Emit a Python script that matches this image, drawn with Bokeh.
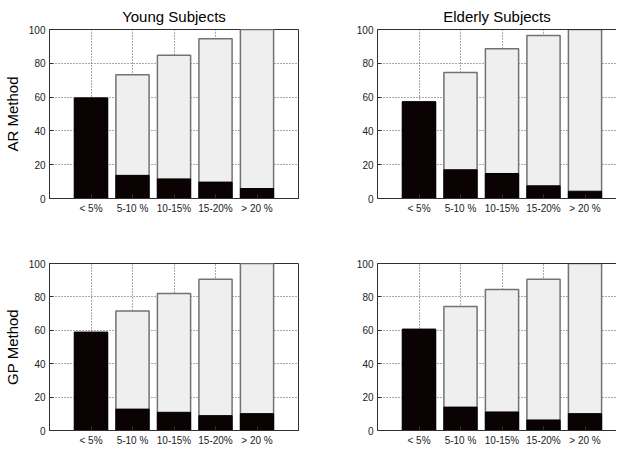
from bokeh.plotting import figure
from bokeh.layouts import column, row
from bokeh.models import Range1d, FixedTicker, LinearAxis
from bokeh.embed import file_html
from bokeh.resources import INLINE

categories = ["< 5%", "5-10 %", "10-15%", "15-20%", "> 20 %"]
y_ticks = [0, 20, 40, 60, 80, 100]

young_ar_black = [59.5, 13.7, 11.6, 9.7, 5.9]
young_ar_total = [59.5, 73.2, 84.8, 94.5, 100]
elderly_ar_black = [57.2, 17.0, 14.8, 7.5, 4.3]
elderly_ar_total = [57.2, 74.6, 88.6, 96.4, 100]
young_gp_black = [58.8, 12.8, 10.9, 8.9, 10.1]
young_gp_total = [58.8, 71.5, 82.0, 90.5, 100]
elderly_gp_black = [60.6, 14.0, 11.1, 6.3, 10.1]
elderly_gp_total = [60.6, 74.3, 84.4, 90.5, 100]

FONT = "Liberation Sans"
FRAME_COL = "#303030"
GRID_COL = "#555555"
LIGHT = "#efefef"
LIGHT_EDGE = "#727272"
DARK = "#0b0203"

positions = list(range(1, len(categories) + 1))


def make(total, black, title=None, ylabel=None, left_col=True, top_row=True):
    fw_full = 249
    fw = fw_full if left_col else 239
    fh = 169 if top_row else 167
    x_end = 6 * fw / fw_full
    p = figure(
        frame_width=fw, frame_height=fh,
        x_range=Range1d(0, x_end), y_range=Range1d(0, 100),
        output_backend="svg", toolbar_location=None,
        min_border_left=41 if left_col else 59,
        min_border_right=20 if left_col else 0,
        min_border_top=29 if top_row else 35,
        min_border_bottom=30 if top_row else 16,
        background_fill_color="white", border_fill_color="white",
    )
    xa = p.below[0]
    ya = p.left[0]
    if title:
        p.title.text = title
        p.title.align = "center"
        p.title.text_font = FONT
        p.title.text_font_size = "15px"
        p.title.text_font_style = "normal"
        p.title.text_color = "black"
        p.title.standoff = 9
    if left_col:
        p.outline_line_color = FRAME_COL
        p.outline_line_width = 1
        p.outline_line_alpha = 1
    else:
        p.outline_line_color = None
        top_ax = LinearAxis(ticker=FixedTicker(ticks=[]),
                            major_tick_in=0, major_tick_out=0,
                            major_label_standoff=0,
                            minor_tick_line_color=None,
                            axis_line_color=FRAME_COL)
        p.add_layout(top_ax, "above")

    p.vbar(x=positions, top=total, width=0.8, bottom=0,
           fill_color=LIGHT, line_color=LIGHT_EDGE, line_width=1.5)
    p.vbar(x=positions, top=black, width=0.8, bottom=0,
           fill_color=DARK, line_color="black", line_width=1)

    xa.ticker = FixedTicker(ticks=positions)
    xa.major_label_overrides = {k: v for k, v in zip(positions, categories)}
    ya.ticker = FixedTicker(ticks=y_ticks)
    for ax in (xa, ya):
        ax.major_tick_in = 4
        ax.major_tick_out = 0
        ax.minor_tick_line_color = None
        ax.major_label_text_font = FONT
        ax.major_label_text_font_size = "10px"
        ax.major_label_text_color = "#222222"
        ax.axis_line_color = FRAME_COL
        ax.major_tick_line_color = FRAME_COL
    xa.major_label_standoff = 4
    ya.major_label_standoff = 4
    if ylabel:
        ya.axis_label = ylabel
        ya.axis_label_text_font = FONT
        ya.axis_label_text_font_size = "15px"
        ya.axis_label_text_font_style = "normal"
        ya.axis_label_text_color = "black"
        ya.axis_label_standoff = 5

    p.xgrid.ticker = FixedTicker(ticks=positions)
    p.ygrid.ticker = FixedTicker(ticks=y_ticks[1:-1])
    for g in (p.xgrid, p.ygrid):
        g.grid_line_color = GRID_COL
        g.grid_line_dash = "1 2"
        g.grid_line_width = 1
        g.grid_line_alpha = 1
    return p


p1 = make(young_ar_total, young_ar_black, title="Young Subjects", ylabel="AR Method", left_col=True, top_row=True)
p2 = make(elderly_ar_total, elderly_ar_black, title="Elderly Subjects", left_col=False, top_row=True)
p3 = make(young_gp_total, young_gp_black, ylabel="GP Method", left_col=True, top_row=False)
p4 = make(elderly_gp_total, elderly_gp_black, left_col=False, top_row=False)

layout = column(row(p1, p2), row(p3, p4))
open("out.html", "w").write(file_html(layout, INLINE))
